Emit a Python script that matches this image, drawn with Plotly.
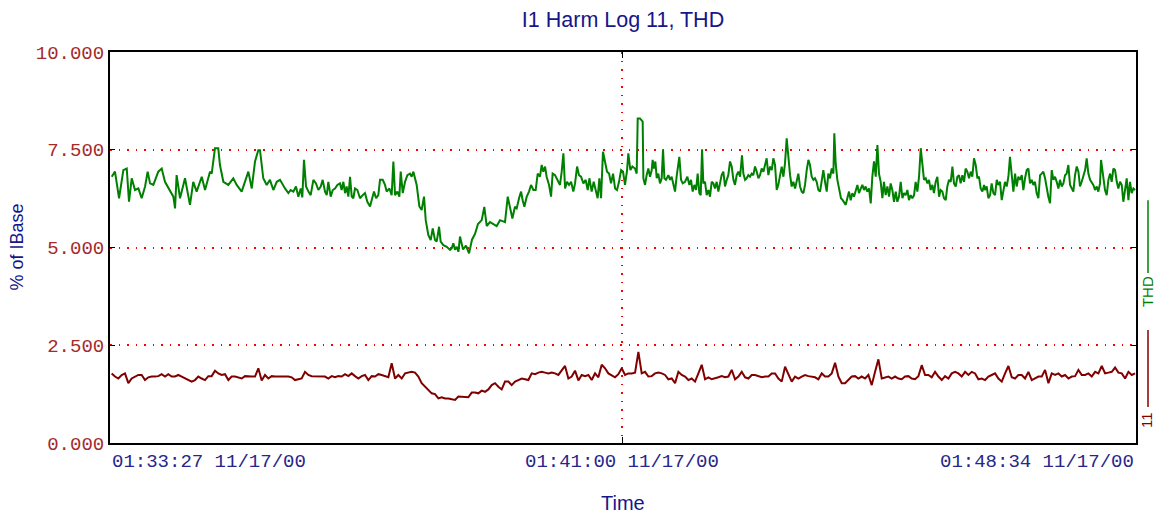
import pandas as pd
import plotly.graph_objects as go

# time window of the log
START = pd.Timestamp("2000-11-17 01:33:27")
MID = pd.Timestamp("2000-11-17 01:41:00")
END = pd.Timestamp("2000-11-17 01:48:34")
x_tick_labels = ["01:33:27 11/17/00", "01:41:00 11/17/00", "01:48:34 11/17/00"]
y_ticks = [0, 2.5, 5, 7.5, 10]

# THD (% of IBase), seconds after START
thd_sec = [
    1.5, 4.4, 8.0, 11.8, 14.8, 16.8, 19.2, 22.1, 25.1, 28.0,
    31.0, 33.3, 35.4, 38.3, 42.7, 45.7, 48.6, 53.0, 56.0, 57.5,
    58.9, 61.9, 66.3, 70.7, 73.6, 76.6, 81.1, 84.0, 88.4, 89.9,
    92.8, 95.7, 97.2, 100.2, 104.6, 109.0, 112.0, 116.4, 119.3, 122.3,
    125.3, 128.2, 131.1, 132.6, 135.5, 138.5, 141.4, 144.4, 147.4, 150.3,
    154.7,
    155.6, 157.7, 159.7, 162.1, 164.4, 166.5, 168.6, 170.0, 171.5, 173.3,
    175.4, 177.4, 179.8, 182.1, 184.2, 186.3, 188.0, 190.1, 191.6, 193.0,
    195.1, 196.9, 198.9, 201.0, 203.3, 204.8, 206.3, 207.8, 209.2, 210.7,
    212.2, 213.7, 215.1, 216.6, 218.7, 221.0, 223.4, 225.4, 227.5, 229.9,
    231.3, 233.4, 235.2, 237.2, 238.7, 241.1, 243.1, 244.6, 247.0, 249.0,
    250.5, 252.0, 254.0, 255.8, 257.0, 258.8, 260.8, 262.9, 265.2, 266.7,
    268.2, 269.7, 271.1, 273.5, 275.5, 277.6, 279.1, 281.4, 283.5, 285.3,
    287.3, 288.8, 290.9, 292.3, 294.7, 297.7, 300.6, 302.1, 303.5, 305.0,
    306.5, 308.0, 309.4,
    312.1, 314.7, 317.4, 320.0, 322.7, 325.3,
    328.6, 330.9, 333.0, 335.9, 338.9, 341.8, 344.8, 349.2, 351.6, 353.6,
    355.7, 358.0, 359.5, 361.6, 363.4, 364.8, 366.3, 368.4, 370.4, 372.2,
    374.3, 376.3, 378.1, 380.1, 381.6, 383.1, 384.6, 386.0, 388.1, 389.9,
    391.3, 393.4, 395.8, 397.8, 399.3, 400.8, 402.3, 404.0, 405.8, 407.6,
    409.6, 411.1, 412.9, 414.6, 416.4, 418.5, 420.5, 422.3, 423.8, 425.8,
    427.6, 429.4, 431.1, 432.6, 434.1, 435.8, 437.6, 439.4, 441.2, 442.9,
    444.7, 446.5, 448.2, 450.0, 451.8, 453.5, 455.3, 457.1, 458.2, 460.0,
    461.8, 464.1,
    465.6, 466.5, 468.5, 470.0, 470.9, 471.5, 473.0, 474.4, 475.9, 477.4,
    478.9, 479.7, 480.9, 482.1, 483.3, 484.7, 486.2, 487.7, 488.9, 490.1,
    491.5, 493.6, 495.1, 496.5, 498.0, 499.5, 500.9, 503.3, 504.8, 506.3,
    508.3, 510.4, 512.2, 513.6, 515.1, 516.6, 518.1, 519.5, 521.0, 522.2,
    523.4, 524.5, 526.0, 527.5, 529.0, 530.4, 531.9, 533.4, 534.8, 536.3,
    537.8, 539.3, 540.7, 542.2, 543.7, 545.2, 546.6, 548.1, 549.6, 551.1,
    552.5, 554.0, 555.5, 557.0, 558.7, 559.9, 561.4, 562.8, 564.3, 565.8,
    567.3, 568.7, 570.2, 571.7, 573.2, 574.6, 576.1, 577.6, 579.1, 580.5,
    582.0, 583.5, 585.0, 586.4, 587.9, 589.4, 590.8, 592.3, 593.8, 595.3,
    596.7, 598.2, 599.7, 601.2, 602.6, 604.1, 605.6, 607.1, 608.5, 610.0,
    611.5, 613.0, 614.4, 615.9, 617.4, 618.8,
    620.3, 621.8, 623.2, 624.7, 626.2, 627.7, 629.1, 630.6, 632.1, 633.6,
    635.0, 636.5, 638.0, 639.5, 640.3, 641.5, 643.0, 644.5, 646.2, 647.7,
    649.2, 650.4, 651.8, 653.3, 654.8, 656.2, 657.7, 659.2, 660.7, 662.1,
    663.6, 665.1, 666.6, 668.0, 669.5, 671.0, 672.5, 673.9, 675.4, 676.9,
    678.4, 679.8, 681.3, 682.8, 684.2, 685.7, 687.2, 688.7, 690.1, 691.6,
    693.1, 694.6, 696.0, 697.5, 699.0, 700.5, 701.9, 703.4, 704.9, 706.3,
    707.8, 709.3, 710.8, 712.2, 713.7, 715.2, 716.7, 718.1, 719.6, 721.1,
    722.6, 724.0, 725.5, 727.0, 728.4, 729.9, 731.4, 732.9, 734.3, 735.8,
    737.3, 738.8, 740.2, 741.7, 743.2, 744.7, 746.1, 747.6, 749.1, 750.5,
    752.0, 753.5, 755.0, 756.4, 757.9, 759.4, 760.9, 762.3, 763.8, 765.3,
    766.8, 768.2, 769.7, 771.2, 772.7,
    773.5, 775.0, 776.5, 778.0, 779.4, 780.9, 782.4, 783.9, 785.3, 786.8,
    788.3, 789.7, 791.2, 792.7, 794.2, 795.6, 797.1, 798.6, 800.1, 801.5,
    803.0, 804.5, 806.0, 807.4, 808.9, 810.4, 811.9, 813.3, 814.8, 816.3,
    817.7, 819.2, 820.7, 822.2, 823.6, 825.1, 826.6, 828.1, 829.5, 831.0,
    832.5, 834.0, 835.4, 836.9, 838.4, 839.8, 841.3, 842.8, 844.3, 845.7,
    847.2, 848.7, 850.2, 851.6, 853.1, 854.6, 856.1, 857.5, 859.0, 860.5,
    862.0, 863.4, 864.9, 866.4, 867.8, 869.3, 870.8, 872.3, 873.7, 875.2,
    876.1, 877.3, 878.5, 879.6, 881.1, 882.6, 884.1, 885.5, 887.0, 888.5,
    890.0, 891.4, 892.9, 894.4, 895.8, 897.3, 898.8, 900.3, 901.7, 903.2,
    904.7, 906.2,
]
thd = [
    6.81, 6.94, 6.26, 6.98, 7.02, 6.17, 6.77, 6.47, 6.51, 6.26,
    6.56, 6.94, 6.64, 6.60, 6.94, 7.02, 6.68, 6.47, 6.30, 6.00,
    6.85, 6.26, 6.77, 6.09, 6.68, 6.43, 6.81, 6.47, 6.94, 6.89,
    7.54, 7.54, 7.11, 6.68, 6.60, 6.77, 6.60, 6.43, 6.68, 6.94,
    6.51, 7.20, 7.49, 7.49, 6.77, 6.60, 6.73, 6.47, 6.68, 6.73,
    6.51,
    6.47, 6.39, 6.47, 6.43, 6.56, 6.30, 6.51, 6.28, 7.24, 6.56,
    6.43, 6.34, 6.73, 6.64, 6.47, 6.56, 6.73, 6.43, 6.34, 6.68,
    6.30, 6.47, 6.51, 6.60, 6.64, 6.47, 6.68, 6.39, 6.56, 6.30,
    6.81, 6.30, 6.26, 6.51, 6.47, 6.26, 6.34, 6.39, 6.17, 6.05,
    6.21, 6.43, 6.26, 6.34, 6.73, 6.73, 6.60, 6.43, 6.51, 6.34,
    7.20, 6.34, 6.43, 6.30, 6.94, 6.39, 6.68, 6.85, 6.89, 6.81,
    6.94, 6.73, 6.60, 6.05, 5.96, 6.30, 5.70, 5.32, 5.19, 5.49,
    5.19, 5.15, 5.53, 5.15, 5.06, 5.02, 4.94, 4.98, 5.11, 4.94,
    5.02, 4.89, 5.28,
    4.95, 5.05, 4.85, 5.20, 5.35, 5.60,
    5.70, 6.04, 5.55, 5.65, 5.60, 5.55, 5.70, 5.65, 6.30, 6.04,
    5.74, 6.04, 6.00, 6.26, 6.43, 6.21, 6.04, 6.30, 6.43, 6.60,
    6.47, 6.47, 6.89, 6.81, 7.11, 6.94, 7.07, 6.81, 6.60, 6.30,
    6.89, 6.85, 6.73, 6.60, 6.94, 7.41, 6.51, 6.68, 6.60, 6.68,
    6.43, 6.64, 7.07, 6.85, 6.81, 6.64, 6.73, 6.47, 6.77, 6.43,
    6.68, 6.47, 6.26, 6.77, 6.26, 7.45, 7.15, 6.94, 6.89, 6.64,
    6.89, 6.51, 6.47, 6.68, 6.98, 6.94, 6.60, 6.98, 7.41, 6.98,
    7.07, 7.02,
    6.89, 8.30, 8.30, 8.26, 8.22, 6.77, 6.60, 6.85, 7.02, 6.81,
    6.98, 7.24, 7.02, 7.20, 6.77, 6.89, 6.64, 6.77, 7.51, 6.77,
    6.73, 6.85, 6.73, 6.81, 6.64, 6.43, 6.81, 7.32, 6.73, 6.64,
    6.68, 6.81, 6.60, 6.73, 6.43, 6.60, 6.47, 6.89, 6.39, 6.34,
    7.51, 6.64, 6.68, 6.34, 6.47, 6.30, 6.68, 6.64, 6.51, 6.68,
    6.43, 6.68, 6.85, 6.94, 6.56, 6.73, 6.85, 7.20, 7.07, 6.73,
    6.60, 6.85, 6.94, 6.81, 7.36, 6.89, 6.73, 6.77, 6.85, 6.81,
    6.89, 6.85, 7.07, 6.94, 6.77, 6.85, 7.02, 6.94, 7.15, 7.28,
    6.85, 7.07, 6.98, 7.28, 7.11, 6.47, 6.60, 6.81, 7.07, 6.81,
    7.15, 7.79, 7.24, 6.85, 6.56, 6.68, 6.51, 6.68, 6.89, 6.56,
    6.43, 6.39, 6.60, 6.98, 7.24, 7.11,
    6.81, 6.73, 6.77, 6.68, 6.47, 6.43, 6.73, 6.98, 6.68, 6.43,
    6.89, 6.77, 7.02, 6.89, 7.92, 7.15, 6.73, 6.47, 6.26, 6.21,
    6.13, 6.09, 6.26, 6.43, 6.21, 6.39, 6.30, 6.47, 6.60, 6.39,
    6.51, 6.60, 6.47, 6.56, 6.43, 6.51, 6.13, 6.81, 7.20, 6.81,
    7.62, 6.89, 6.68, 6.26, 6.68, 6.34, 6.56, 6.30, 6.64, 6.47,
    6.17, 6.43, 6.17, 6.30, 6.68, 6.26, 6.39, 6.34, 6.47, 6.21,
    6.34, 6.26, 6.34, 6.68, 6.43, 6.81, 7.54, 7.11, 6.73, 6.77,
    6.64, 6.73, 6.47, 6.60, 6.39, 6.68, 6.81, 6.30, 6.47, 6.43,
    6.26, 6.21, 6.56, 6.73, 6.68, 7.07, 6.64, 6.56, 6.81, 6.85,
    6.64, 6.85, 6.68, 7.02, 6.94, 6.77, 6.94, 6.81, 7.28, 7.11,
    6.77, 6.81, 6.51, 6.43, 6.60,
    6.47, 6.56, 6.26, 6.34, 6.64, 6.39, 6.34, 6.73, 6.60, 6.68,
    6.21, 6.47, 6.68, 6.56, 6.81, 7.32, 6.85, 6.43, 6.89, 6.56,
    6.81, 6.73, 6.85, 6.47, 6.77, 6.98, 7.02, 6.64, 6.73, 6.60,
    6.68, 6.39, 6.26, 6.85, 6.89, 6.94, 6.77, 6.51, 6.30, 6.13,
    6.98, 6.73, 6.81, 6.68, 6.51, 6.73, 6.56, 6.64, 6.85, 6.89,
    7.11, 6.60, 6.51, 6.43, 6.85, 7.07, 6.94, 6.56, 6.68, 6.85,
    6.98, 7.28, 6.89, 6.73, 6.68, 6.60, 6.47, 6.56, 6.43, 6.64,
    7.24, 6.94, 6.60, 6.47, 6.34, 6.73, 6.89, 6.68, 7.02, 6.98,
    6.68, 6.51, 6.68, 6.60, 6.17, 6.51, 6.77, 6.21, 6.68, 6.39,
    6.51, 6.47,
]

# harmonic 11 (% of IBase), logged every ~2.95 s
h11_first_sec = 1.47
h11_step_sec = 2.947
h11 = [
    1.78, 1.70, 1.65, 1.74, 1.78, 1.53, 1.65, 1.70, 1.74, 1.74,
    1.61, 1.68, 1.70, 1.70, 1.71, 1.76, 1.70, 1.76, 1.70, 1.70,
    1.74, 1.70, 1.65, 1.61, 1.57, 1.61, 1.70, 1.65, 1.61, 1.71,
    1.71, 1.85, 1.78, 1.74, 1.76, 1.61, 1.70, 1.70, 1.68, 1.65,
    1.71, 1.70, 1.70, 1.70, 1.91, 1.60, 1.74, 1.65, 1.71, 1.70,
    1.70, 1.71, 1.70, 1.70, 1.68, 1.61, 1.63, 1.65, 1.82, 1.74,
    1.71, 1.71, 1.70, 1.71, 1.70, 1.65, 1.71, 1.68, 1.71, 1.70,
    1.76, 1.71, 1.78, 1.71, 1.65, 1.71, 1.74, 1.61, 1.71, 1.70,
    1.76, 1.74, 1.70, 1.68, 2.04, 1.65, 1.74, 1.65, 1.78, 1.80,
    1.82, 1.80, 1.70, 1.53, 1.44, 1.36, 1.27, 1.25, 1.14, 1.17,
    1.14, 1.14, 1.12, 1.10,
    1.19, 1.18, 1.18, 1.17, 1.29, 1.29, 1.27, 1.34, 1.31, 1.37,
    1.48, 1.53, 1.44, 1.37, 1.57, 1.57, 1.48, 1.57, 1.61, 1.65,
    1.63, 1.61, 1.78, 1.76, 1.80, 1.82, 1.80, 1.78, 1.80, 1.78,
    1.74, 1.87, 1.97, 1.65, 1.70, 1.85, 1.60, 1.74, 1.71, 1.74,
    1.61, 1.78, 1.68, 2.00, 1.91, 1.78, 1.74, 1.68, 1.76, 1.91,
    1.74, 1.78, 1.78, 1.80, 2.33, 1.78, 1.82, 1.70, 1.71, 1.78,
    1.80, 1.78, 1.74, 1.63, 1.65, 1.53, 1.82, 1.74, 1.70, 1.61,
    1.65, 1.57, 1.78, 2.00, 1.63, 1.68, 1.63, 1.65, 1.68, 1.71,
    1.68, 1.70, 1.87, 1.63, 1.70, 1.82, 1.68, 1.65, 1.74, 1.74,
    1.71, 1.68, 1.70, 1.70, 1.78, 1.78, 1.65, 1.57, 1.95, 1.78,
    1.57, 1.70,
    1.65, 1.70, 1.74, 1.71, 1.70, 1.68, 1.63, 1.78, 1.70, 1.70,
    1.78, 2.05, 1.70, 1.53, 1.53, 1.61, 1.70, 1.71, 1.65, 1.70,
    1.65, 1.74, 1.48, 1.82, 2.14, 1.65, 1.68, 1.70, 1.65, 1.70,
    1.65, 1.63, 1.70, 1.71, 1.65, 1.63, 1.71, 1.99, 1.74, 1.74,
    1.68, 1.82, 1.70, 1.61, 1.71, 1.65, 1.78, 1.82, 1.78, 1.70,
    1.82, 1.74, 1.82, 1.78, 1.63, 1.65, 1.61, 1.70, 1.74, 1.78,
    1.65, 1.57, 1.78, 1.97, 1.68, 1.65, 1.74, 1.74, 1.65, 1.82,
    1.61, 1.65, 1.70, 1.70, 1.87, 1.53, 1.78, 1.74, 1.78, 1.70,
    1.74, 1.65, 1.70, 1.71, 1.87, 1.74, 1.74, 1.78, 1.70, 1.82,
    1.78, 1.97, 1.78, 1.80, 1.82, 1.93, 1.80, 1.78, 1.65, 1.82,
    1.74, 1.78,
]

thd_time = START + pd.to_timedelta(thd_sec, unit="s")
h11_time = START + pd.to_timedelta([h11_first_sec + i * h11_step_sec for i in range(len(h11))], unit="s")

GREEN = "#008000"
MAROON = "#800000"
NAVY = "#16168a"
MONO = "Liberation Mono, Courier New, monospace"
SANS = "Liberation Sans, Arial, sans-serif"

fig = go.Figure()
fig.add_trace(go.Scatter(x=thd_time, y=thd, mode="lines", name="THD",
                         line=dict(color=GREEN, width=2)))
fig.add_trace(go.Scatter(x=h11_time, y=h11, mode="lines", name="11",
                         line=dict(color=MAROON, width=2)))

fig.update_xaxes(
    type="date", range=[START, END],
    tickvals=[MID], showticklabels=False,
    ticks="inside", ticklen=6, tickcolor="black", tickwidth=1,
    showgrid=True, gridcolor="red", gridwidth=1.5, griddash="1.5px,7px",
    showline=True, linecolor="black", linewidth=2, mirror="ticks",
    zeroline=False,
)
fig.update_yaxes(
    range=[0, 10], tickvals=y_ticks, tickformat=".3f",
    tickfont=dict(family=MONO, size=19, color="#a52a2a"),
    ticks="inside", ticklen=5, tickcolor="black", tickwidth=1,
    showgrid=True, gridcolor="red", gridwidth=1.5, griddash="1.5px,7px",
    showline=True, linecolor="black", linewidth=2, mirror="ticks",
    zeroline=False,
)

annotations = []
for t, lab, anchor in zip([START, MID, END], x_tick_labels, ["left", "center", "right"]):
    annotations.append(dict(x=t, xref="x", y=0, yref="paper", text=lab, showarrow=False,
                            xanchor=anchor, yanchor="top", yshift=-6,
                            font=dict(family=MONO, size=19, color="#26268c")))
annotations += [
    dict(x=0.5, xref="paper", y=0, yref="paper", text="Time", showarrow=False,
         yanchor="middle", yshift=-60, font=dict(family=SANS, size=20, color=NAVY)),
    dict(x=0, xref="paper", y=0.5, yref="paper", text="% of IBase", showarrow=False,
         textangle=-90, xanchor="center", xshift=-94, font=dict(family=SANS, size=18, color=NAVY)),
    dict(x=1, xref="paper", y=0.036, yref="paper", text="11", showarrow=False,
         textangle=-90, xanchor="center", xshift=11, borderpad=0,
         font=dict(family=SANS, size=15, color=MAROON)),
    dict(x=1, xref="paper", y=0.386, yref="paper", text="THD", showarrow=False,
         textangle=-90, xanchor="center", xshift=11, borderpad=0,
         font=dict(family=SANS, size=15, color=GREEN)),
]

# legend keys beside the rotated names
key_x = 1 + 12 / 1026
shapes = [
    dict(type="line", xref="paper", yref="paper", x0=key_x, x1=key_x, y0=0.092, y1=0.289,
         line=dict(color=MAROON, width=1.5)),
    dict(type="line", xref="paper", yref="paper", x0=key_x, x1=key_x, y0=0.435, y1=0.621,
         line=dict(color=GREEN, width=1.5)),
]

fig.update_layout(
    width=1156, height=516,
    margin=dict(l=110, r=20, t=52, b=73),
    paper_bgcolor="white", plot_bgcolor="white",
    showlegend=False,
    title=dict(text="I1 Harm Log 11, THD", x=0.5, xref="paper", xanchor="center",
               y=1 - 19 / 516, yanchor="middle",
               font=dict(family=SANS, size=21.5, color=NAVY)),
    annotations=annotations,
    shapes=shapes,
)

fig.write_html("out.html", config={"displayModeBar": False},
               post_script="document.body.style.margin='0';")
